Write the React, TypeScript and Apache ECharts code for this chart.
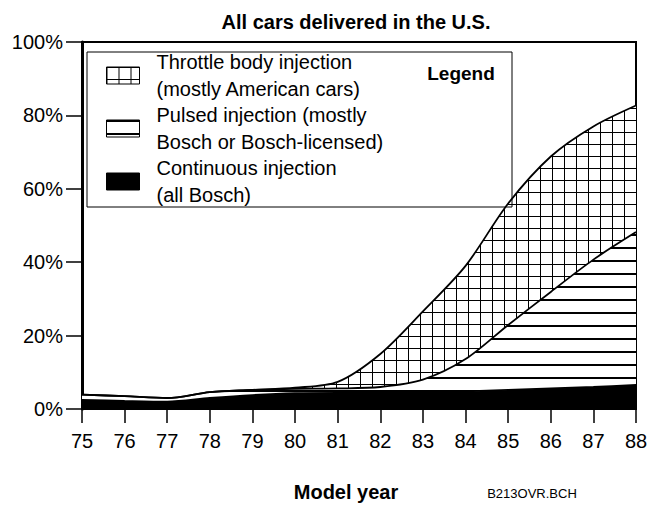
import React, { useEffect, useRef } from "react";
import * as echarts from "echarts";

const years = ["75", "76", "77", "78", "79", "80", "81", "82", "83", "84", "85", "86", "87", "88"];
const continuous = [2.5, 2.2, 2.0, 3.0, 3.8, 4.3, 4.4, 4.4, 4.6, 4.8, 5.2, 5.6, 6.0, 6.6];
const pulsed = [1.4, 1.3, 1.0, 1.6, 1.4, 1.2, 1.2, 1.6, 3.4, 8.8, 17.7, 26.3, 34.7, 41.6];
const throttle = [0, 0, 0, 0, 0, 0.3, 1.8, 9, 18.6, 25.4, 33.1, 36.9, 36.3, 34.5];

const nameThrottle = "Throttle body injection\n(mostly American cars)";
const namePulsed = "Pulsed injection (mostly\nBosch or Bosch-licensed)";
const nameContinuous = "Continuous injection\n(all Bosch)";

const FONT = "'Liberation Sans', Arial, Helvetica, sans-serif";

function makeCanvas(w: number, h: number, draw: (ctx: CanvasRenderingContext2D) => void) {
  const c = document.createElement("canvas");
  c.width = w;
  c.height = h;
  const ctx = c.getContext("2d") as CanvasRenderingContext2D;
  ctx.fillStyle = "#fff";
  ctx.fillRect(0, 0, w, h);
  ctx.fillStyle = "#000";
  draw(ctx);
  return c;
}

export default function App() {
  const ref = useRef<HTMLDivElement>(null);
  useEffect(() => {
    if (!ref.current) return;
    const chart = echarts.init(ref.current, null, { renderer: "svg" });
    const gridCanvas = makeCanvas(12, 12, (ctx) => {
      ctx.fillRect(0, 0, 12, 1);
      ctx.fillRect(0, 0, 1, 12);
    });
    const stripeCanvas = makeCanvas(12, 13, (ctx) => {
      ctx.fillRect(0, 0, 12, 2);
    });
    const gridPattern: any = { image: gridCanvas, repeat: "repeat", imageWidth: 12, imageHeight: 12 };
    const stripePattern: any = { image: stripeCanvas, repeat: "repeat", imageWidth: 12, imageHeight: 13 };

    const lineStyle = { color: "#000", width: 1.8 };
    chart.setOption({
      animation: false,
      backgroundColor: "#fff",
      title: {
        text: "All cars delivered in the U.S.",
        left: 351,
        top: 7,
        textAlign: "center",
        textStyle: { fontFamily: FONT, fontWeight: "bold", fontSize: 20, color: "#000" },
      },
      grid: {
        left: 82,
        right: 25,
        top: 42,
        bottom: 89,
        show: true,
        borderColor: "#000",
        borderWidth: 2,
        backgroundColor: "transparent",
      },
      legend: {
        orient: "vertical",
        left: 106,
        top: 49,
        padding: 0,
        itemGap: 0,
        itemWidth: 33,
        itemHeight: 17,
        icon: "rect",
        selectedMode: false,
        textStyle: {
          fontFamily: FONT,
          fontSize: 20,
          lineHeight: 26.5,
          color: "#000",
          padding: [0, 0, 0, 12],
        },
        data: [
          { name: nameThrottle, itemStyle: { color: gridPattern, borderColor: "#000", borderWidth: 1 } },
          { name: namePulsed, itemStyle: { color: stripePattern, borderColor: "#000", borderWidth: 1 } },
          { name: nameContinuous, itemStyle: { color: "#000", borderColor: "#000", borderWidth: 1 } },
        ],
      },
      xAxis: {
        type: "category",
        data: years,
        boundaryGap: false,
        name: "Model year",
        nameLocation: "middle",
        nameGap: 73,
        nameTextStyle: {
          fontFamily: FONT,
          fontWeight: "bold",
          fontSize: 20,
          color: "#000",
          padding: [0, 26, 0, 0],
        },
        axisLine: { lineStyle: { color: "#000", width: 1.5 } },
        axisTick: { length: 14, lineStyle: { color: "#000", width: 1.5 } },
        axisLabel: { fontFamily: FONT, fontSize: 20, color: "#000", margin: 22 },
      },
      yAxis: {
        type: "value",
        min: 0,
        max: 100,
        interval: 20,
        splitLine: { show: false },
        axisLine: { show: true, lineStyle: { color: "#000", width: 3 } },
        axisTick: { show: true, length: 16, lineStyle: { color: "#000", width: 1.5 } },
        axisLabel: {
          fontFamily: FONT,
          fontSize: 20,
          color: "#000",
          margin: 19,
          formatter: "{value}%",
        },
      },
      graphic: [
        {
          type: "rect",
          shape: { x: 87, y: 52, width: 425, height: 155 },
          style: { fill: "none", stroke: "#000", lineWidth: 1 },
          z: 100,
        },
        {
          type: "text",
          x: 461,
          y: 73,
          style: {
            text: "Legend",
            fontFamily: FONT,
            fontWeight: "bold",
            fontSize: 19,
            fill: "#000",
            align: "center",
            verticalAlign: "middle",
          },
          z: 100,
        },
        {
          type: "text",
          x: 532,
          y: 493,
          style: {
            text: "B213OVR.BCH",
            fontFamily: FONT,
            fontSize: 13,
            fill: "#000",
            align: "center",
            verticalAlign: "middle",
          },
        },
      ],
      series: [
        {
          name: nameContinuous,
          type: "line",
          stack: "total",
          data: continuous,
          smooth: 0.3,
          symbol: "none",
          lineStyle,
          itemStyle: { color: "#000" },
          areaStyle: { color: "#000", opacity: 1 },
        },
        {
          name: namePulsed,
          type: "line",
          stack: "total",
          data: pulsed,
          smooth: 0.3,
          symbol: "none",
          lineStyle,
          itemStyle: { color: "#000" },
          areaStyle: { color: stripePattern, opacity: 1 },
        },
        {
          name: nameThrottle,
          type: "line",
          stack: "total",
          data: throttle,
          smooth: 0.3,
          symbol: "none",
          lineStyle,
          itemStyle: { color: "#000" },
          areaStyle: { color: gridPattern, opacity: 1 },
        },
      ],
    });
    return () => chart.dispose();
  }, []);
  return (
    <div
      ref={ref}
      style={{ position: "fixed", left: 0, top: 0, width: 661, height: 507, background: "#fff" }}
    />
  );
}
